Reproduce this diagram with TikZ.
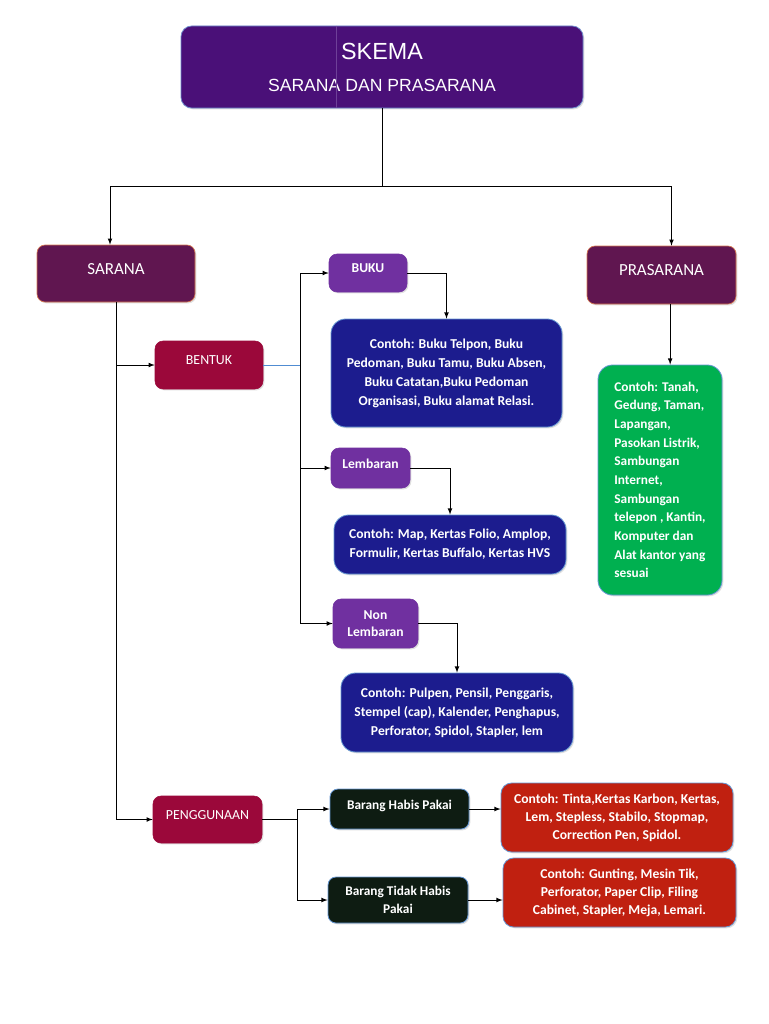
\documentclass[tikz,border=0pt]{standalone}
\usepackage{fontspec}
\setmainfont{Carlito}
\newfontfamily\arialfont{Liberation Sans}
\usetikzlibrary{arrows,shadows}
\tikzset{>=latex}
\definecolor{titlepurple}{RGB}{74, 16, 120}
\definecolor{titleline}{RGB}{110, 64, 152}
\definecolor{titleborder}{RGB}{110, 140, 205}
\definecolor{plum}{RGB}{96, 22, 80}
\definecolor{plumborder}{RGB}{215, 120, 80}
\definecolor{crimson}{RGB}{155, 8, 58}
\definecolor{violet2}{RGB}{112, 48, 160}
\definecolor{navy2}{RGB}{28, 28, 142}
\definecolor{lightblue}{RGB}{100, 150, 210}
\definecolor{green2}{RGB}{0, 176, 80}
\definecolor{nearblack}{RGB}{14, 28, 18}
\definecolor{red2}{RGB}{192, 32, 16}
\definecolor{thinblue}{RGB}{80, 140, 210}
\tikzset{
  box/.style={rounded corners=6pt, inner sep=2pt, align=center, text=white,
    drop shadow={opacity=0.25, shadow xshift=1pt, shadow yshift=-1pt}},
  lift/.style={text depth=7pt},
  mainbox/.style={box, lift, fill=plum, draw=plumborder, line width=0.5pt, font=\fontsize{12.7}{15}\selectfont},
  catbox/.style={box, lift, fill=crimson, draw=crimson, font=\fontsize{10.4}{12}\selectfont},
  subbox/.style={box, fill=violet2, draw=violet2, font=\bfseries\fontsize{10.2}{12.5}\selectfont},
  infobox/.style={box, rounded corners=11pt, fill=navy2, draw=lightblue, line width=0.6pt,
    font=\bfseries\fontsize{10.2}{14.25}\selectfont},
  darkbox/.style={box, fill=nearblack, draw=lightblue, line width=0.6pt, font=\bfseries\fontsize{10}{13.5}\selectfont},
  redbox/.style={box, rounded corners=8pt, fill=red2, draw=lightblue, line width=0.6pt,
    font=\bfseries\fontsize{10.2}{13.5}\selectfont},
  link/.style={line width=0.6pt, ->},
  plain/.style={line width=0.6pt}
}

\begin{document}
\begin{tikzpicture}[x=0.75pt, y=-0.75pt]
\useasboundingbox[fill=white] (0,0) rectangle (768,1024);

\node[box, rounded corners=8pt, fill=titlepurple, draw=titleborder, line width=0.6pt, minimum width=301.5pt, minimum height=61.5pt, font=\arialfont] (title) at (382,67)
  {{\fontsize{17.5}{20}\selectfont SKEMA}\\[12pt]{\fontsize{13.2}{15}\selectfont SARANA DAN PRASARANA}};
\draw[titleline, line width=0.4pt] ([xshift=-34.5pt]title.north) -- ([xshift=-34.5pt]title.south);

\node[mainbox, minimum width=118.5pt, minimum height=42.75pt] (sarana) at (116,273.5) {SARANA};
\node[mainbox, minimum width=111.75pt, minimum height=43.5pt] (prasarana) at (661.5,275) {PRASARANA};

\node[catbox, minimum width=81pt, minimum height=36pt] (bentuk) at (209,365) {BENTUK};
\node[catbox, minimum width=81.75pt, minimum height=35.25pt] (penggunaan) at (207.5,819.5) {PENGGUNAAN};

\node[subbox, lift, minimum width=58.5pt, minimum height=28.5pt] (buku) at (368,273) {BUKU};
\node[subbox, lift, minimum width=59.25pt, minimum height=30pt] (lembaran) at (370.5,468) {Lembaran};
\node[subbox, minimum width=63.75pt, minimum height=36.75pt] (nonlembaran) at (375.5,623.5) {Non\\Lembaran};

\node[infobox, minimum width=173.25pt, minimum height=81pt] (cbuku) at (446.5,373)
  {Contoh: Buku Telpon, Buku\\Pedoman, Buku Tamu, Buku Absen,\\Buku Catatan,Buku Pedoman\\Organisasi, Buku alamat Relasi.};
\node[infobox, minimum width=174pt, minimum height=44.25pt] (clembaran) at (450,544.5)
  {Contoh: Map, Kertas Folio, Amplop,\\Formulir, Kertas Buffalo, Kertas HVS};
\node[infobox, minimum width=174pt, minimum height=59.25pt] (cnon) at (457,712.5)
  {Contoh: Pulpen, Pensil, Penggaris,\\Stempel (cap), Kalender, Penghapus,\\Perforator, Spidol, Stapler, lem};

\node[box, rounded corners=11pt, fill=green2, draw=lightblue, line width=0.6pt, align=left, minimum width=93pt, minimum height=172.5pt,
  font=\bfseries\fontsize{10}{14}\selectfont] (hijau) at (660,480)
  {Contoh: Tanah,\\Gedung, Taman,\\Lapangan,\\Pasokan Listrik,\\Sambungan\\Internet,\\Sambungan\\telepon , Kantin,\\Komputer dan\\Alat kantor yang\\sesuai};

\node[darkbox, lift, minimum width=104.25pt, minimum height=30pt] (habis) at (399.5,809) {Barang Habis Pakai};
\node[darkbox, minimum width=105pt, minimum height=34.5pt] (tidak) at (398,900) {Barang Tidak Habis\\Pakai};

\node[redbox, minimum width=174pt, minimum height=51.75pt] (merah1) at (617,817.5)
  {Contoh: Tinta,Kertas Karbon, Kertas,\\Lem, Stepless, Stabilo, Stopmap,\\Correction Pen, Spidol.};
\node[redbox, minimum width=174.75pt, minimum height=51.75pt] (merah2) at (619.5,892.5)
  {Contoh: Gunting, Mesin Tik,\\Perforator, Paper Clip, Filing\\Cabinet, Stapler, Meja, Lemari.};

\coordinate (split) at ([yshift=-58.5pt]title.south);
\coordinate (bspine) at ([xshift=27.75pt]bentuk.east);
\coordinate (pspine) at ([xshift=26.25pt]penggunaan.east);

\draw[plain] (title.south) -- (split);
\draw[link] (split) -| ([xshift=-4.5pt]sarana.north);
\draw[link] (split) -| ([xshift=7.5pt]prasarana.north);

\draw[link] (sarana.south) |- (bentuk.west);
\draw[link] (sarana.south) |- (penggunaan.west);

\draw[thinblue, line width=0.5pt] (bentuk.east) -- (bspine);
\draw[link] (bspine) |- (buku.west);
\draw[link] (bspine) |- (lembaran.west);
\draw[link] (bspine) |- (nonlembaran.west);

\draw[link] (buku.east) -| (cbuku.north);
\draw[link] (lembaran.east) -| (clembaran.north);
\draw[link] (nonlembaran.east) -| (cnon.north);

\draw[link] ([xshift=6.5pt]prasarana.south) -- ([xshift=6.5pt]prasarana.south |- hijau.north);

\draw[plain] (penggunaan.east) -- (pspine);
\draw[link] (pspine) |- (habis.west);
\draw[link] (pspine) |- (tidak.west);
\draw[link] (habis.east) -- (habis.east -| merah1.west);
\draw[link] (tidak.east) -- (tidak.east -| merah2.west);
\end{tikzpicture}
\end{document}
